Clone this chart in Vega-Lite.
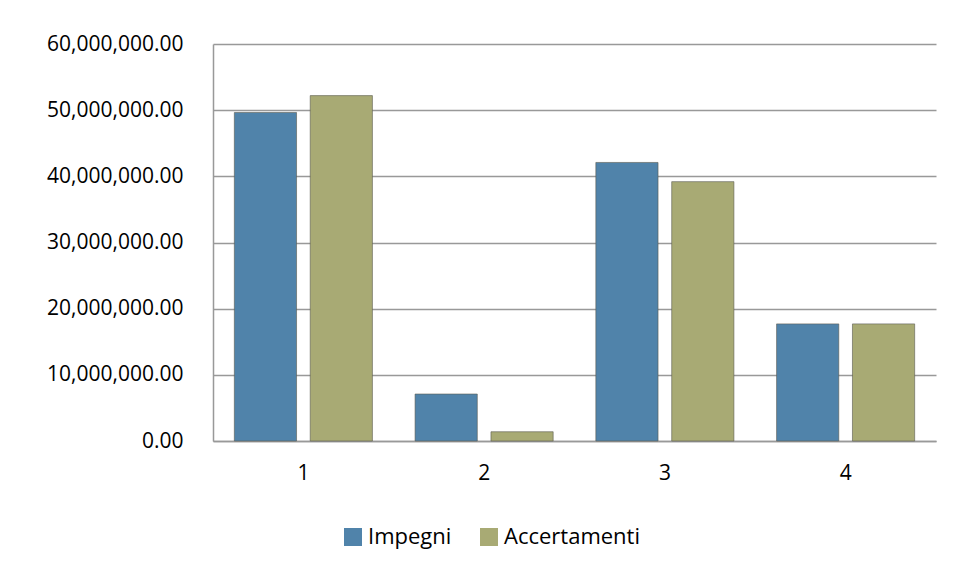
{
  "$schema": "https://vega.github.io/schema/vega-lite/v6.json",
  "width": 723,
  "height": 397,
  "autosize": {"type": "none"},
  "padding": {"left": 213, "top": 44, "right": 20, "bottom": 138},
  "background": "white",
  "config": {
    "view": {"stroke": null},
    "font": "Open Sans",
    "axis": {"labelFont": "Open Sans", "labelFontSize": 21, "labelColor": "#000000"},
    "legend": {"labelFont": "Open Sans", "labelFontSize": 22, "labelColor": "#000000"}
  },
  "data": {
    "values": [
      {"categoria": "1", "serie": "Impegni", "valore": 49650000},
      {"categoria": "1", "serie": "Accertamenti", "valore": 52200000},
      {"categoria": "2", "serie": "Impegni", "valore": 7100000},
      {"categoria": "2", "serie": "Accertamenti", "valore": 1400000},
      {"categoria": "3", "serie": "Impegni", "valore": 42100000},
      {"categoria": "3", "serie": "Accertamenti", "valore": 39200000},
      {"categoria": "4", "serie": "Impegni", "valore": 17700000},
      {"categoria": "4", "serie": "Accertamenti", "valore": 17700000}
    ]
  },
  "mark": {"type": "bar", "stroke": "#5a5a50", "strokeWidth": 0.6},
  "encoding": {
    "x": {
      "field": "categoria",
      "type": "nominal",
      "scale": {"paddingInner": 0.236, "paddingOuter": 0.118},
      "axis": {
        "title": null,
        "labelAngle": 0,
        "labelPadding": 21,
        "ticks": false,
        "domainColor": "#999999",
        "domainWidth": 1.5
      }
    },
    "xOffset": {
      "field": "serie",
      "type": "nominal",
      "sort": ["Impegni", "Accertamenti"],
      "scale": {"paddingInner": 0.18}
    },
    "y": {
      "field": "valore",
      "type": "quantitative",
      "scale": {"domain": [0, 60000000], "nice": false},
      "axis": {
        "title": null,
        "format": ",.2f",
        "values": [0, 10000000, 20000000, 30000000, 40000000, 50000000, 60000000],
        "labelPadding": 30,
        "ticks": false,
        "domain": true,
        "domainColor": "#999999",
        "domainWidth": 1.5,
        "gridColor": "#999999",
        "gridWidth": 1.5
      }
    },
    "color": {
      "field": "serie",
      "type": "nominal",
      "sort": ["Impegni", "Accertamenti"],
      "scale": {"domain": ["Impegni", "Accertamenti"], "range": ["#5083AA", "#A8AA74"]},
      "legend": {
        "title": null,
        "orient": "none",
        "direction": "horizontal",
        "legendX": 129,
        "legendY": 482,
        "symbolType": "square",
        "symbolSize": 324,
        "symbolStrokeWidth": 0,
        "columnPadding": 26,
        "labelOffset": 4
      }
    }
  }
}
